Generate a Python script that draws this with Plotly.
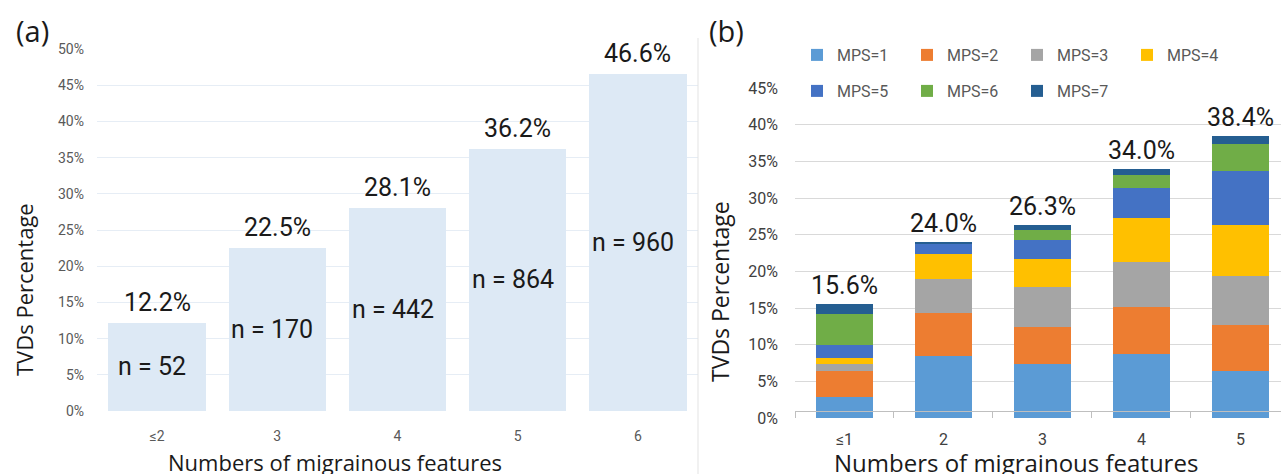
import plotly.graph_objects as go

W, H = 1281, 474

# ---- panel (a): share of TVDs by number of migrainous features ----
features_a = ["≤2", "3", "4", "5", "6"]
tvd_pct_a = [12.2, 22.5, 28.1, 36.2, 46.6]
n_a = [52, 170, 442, 864, 960]

# ---- panel (b): the same share split by MPS score ----
features_b = ["≤1", "2", "3", "4", "5"]
mps_names = ["MPS=1", "MPS=2", "MPS=3", "MPS=4", "MPS=5", "MPS=6", "MPS=7"]
mps_colors = ["#5b9bd5", "#ed7d31", "#a5a5a5", "#ffc000",
              "#4472c4", "#70ad47", "#255e91"]
mps1 = [2.8, 8.4, 7.4, 8.7, 6.4]
mps2 = [3.6, 5.9, 5.0, 6.5, 6.3]
mps3 = [0.9, 4.7, 5.4, 6.1, 6.6]
mps4 = [0.9, 3.4, 3.9, 6.0, 7.0]
mps5 = [1.8, 1.3, 2.6, 4.0, 7.4]
mps6 = [4.2, 0.0, 1.4, 1.9, 3.6]
mps7 = [1.4, 0.3, 0.6, 0.8, 1.1]
mps_series = [mps1, mps2, mps3, mps4, mps5, mps6, mps7]

LABEL_FONT = "Roboto, Open Sans, sans-serif"
SANS = "Open Sans, DejaVu Sans, sans-serif"
INK = "#1a1a1a"


def px(x):
    return x / W


def py(y):
    return 1 - y / H


fig = go.Figure()

fig.add_trace(go.Bar(
    x=features_a, y=tvd_pct_a, xaxis="x", yaxis="y",
    marker=dict(color="#dde9f5", line=dict(width=0)),
    showlegend=False, hoverinfo="skip",
))

for i, (name, color, vals) in enumerate(zip(mps_names, mps_colors, mps_series)):
    fig.add_trace(go.Bar(
        x=features_b, y=vals, name=name, xaxis="x2", yaxis="y2",
        marker=dict(color=color, line=dict(width=0)),
        width=0.58,
        legend="legend" if i < 4 else "legend2",
    ))

totals_b = [round(sum(v), 1) for v in zip(*mps_series)]

annotations = []
# value labels above the bars and sample sizes inside them (x given as category index)
for i, (v, n) in enumerate(zip(tvd_pct_a, n_a)):
    annotations.append(dict(x=i, y=v, xref="x", yref="y", text=f"{v:.1f}%",
                            showarrow=False, xanchor="center", yanchor="bottom", yshift=4,
                            font=dict(family=LABEL_FONT, size=25, color=INK)))
    annotations.append(dict(x=i, y=v / 2, xref="x", yref="y", text=f"n = {n}",
                            showarrow=False, xanchor="center", yanchor="middle", xshift=-5,
                            font=dict(family=LABEL_FONT, size=25, color=INK)))
for i, t in enumerate(totals_b):
    annotations.append(dict(x=i, y=t, xref="x2", yref="y2", text=f"{t:.1f}%",
                            showarrow=False, xanchor="center", yanchor="bottom", yshift=2,
                            font=dict(family=LABEL_FONT, size=25, color=INK)))

# panel tags and axis titles
for txt, x in (("(a)", 32), ("(b)", 726)):
    annotations.append(dict(x=px(x), y=py(31), xref="paper", yref="paper", text=txt,
                            showarrow=False, xanchor="center", yanchor="middle",
                            font=dict(family=SANS, size=29, color=INK)))
for x, y, size in ((24, 290, 22), (720, 292, 23)):
    annotations.append(dict(x=px(x), y=py(y), xref="paper", yref="paper",
                            text="TVDs Percentage", textangle=-90, showarrow=False,
                            xanchor="center", yanchor="middle",
                            font=dict(family=SANS, size=size, color=INK)))
for x, size in ((335, 22), (1016, 24)):
    annotations.append(dict(x=px(x), y=py(462), xref="paper", yref="paper",
                            text="Numbers of migrainous features", showarrow=False,
                            xanchor="center", yanchor="middle",
                            font=dict(family=SANS, size=size, color=INK)))

legend_style = dict(orientation="h", xanchor="left", yanchor="middle",
                    entrywidth=65, traceorder="normal",
                    font=dict(family=LABEL_FONT, size=16, color="#595959"),
                    bgcolor="rgba(0,0,0,0)")

fig.update_layout(
    width=W, height=H,
    margin=dict(l=0, r=0, t=0, b=0, autoexpand=False),
    paper_bgcolor="white", plot_bgcolor="white",
    barmode="stack",
    bargap=0.19,
    xaxis=dict(domain=[px(97), px(698)], range=[-0.5, 4.5], automargin=False,
               showline=False, ticks="", showgrid=False,
               tickfont=dict(family=LABEL_FONT, size=14, color="#595959"),
               ticklabelstandoff=15),
    yaxis=dict(domain=[py(411), py(49)], range=[0, 50], dtick=5, automargin=False,
               ticksuffix="%", showline=False, zeroline=False,
               gridcolor="#e6edf5", gridwidth=1,
               tickfont=dict(family=LABEL_FONT, size=14, color="#595959"),
               ticklabelstandoff=12),
    xaxis2=dict(domain=[px(795), 1.0], range=[-0.5, 4.41], automargin=False,
                showline=True, linecolor="#bfbfbf", linewidth=1,
                ticks="outside", tickson="boundaries", ticklen=6, tickcolor="#bfbfbf",
                showgrid=False,
                tickfont=dict(family=LABEL_FONT, size=16, color="#404040"),
                ticklabelstandoff=14),
    yaxis2=dict(domain=[py(418), py(88)], range=[0, 45], dtick=5, automargin=False,
                anchor="x2", ticksuffix="%", showline=False, zeroline=False,
                gridcolor="#d9d9d9", gridwidth=1,
                tickfont=dict(family=LABEL_FONT, size=16, color="#404040"),
                ticklabelstandoff=16),
    legend=dict(x=px(797), y=py(55), **legend_style),
    legend2=dict(x=px(797), y=py(91), **legend_style),
    annotations=annotations,
    shapes=[dict(type="line", xref="paper", yref="paper", x0=px(698), x1=px(698),
                 y0=0, y1=py(38), line=dict(color="#e3e3e3", width=1))],
)

fig.write_html("out.html")
